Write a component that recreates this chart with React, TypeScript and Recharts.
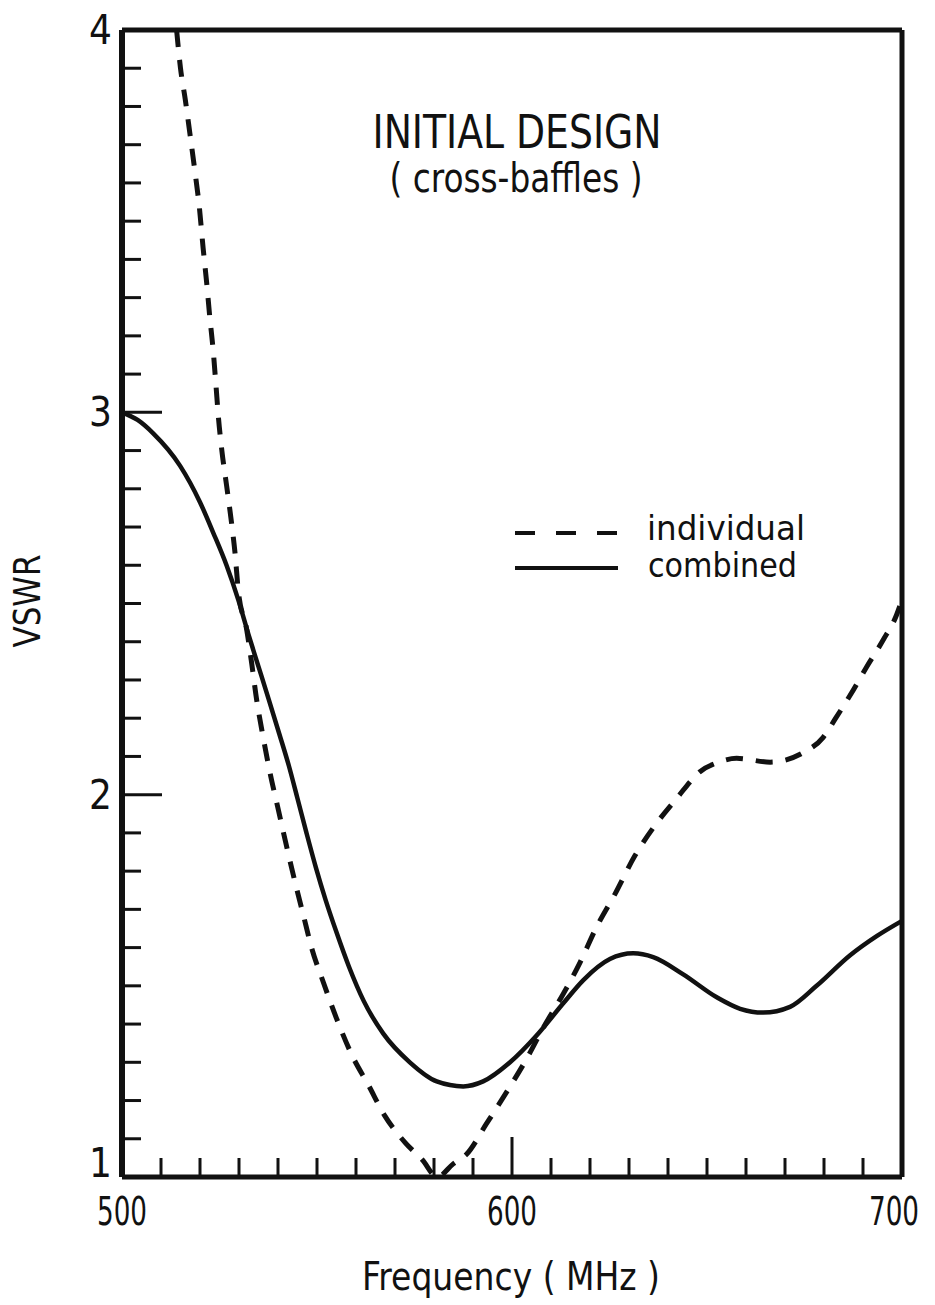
import { LineChart, Line, XAxis, YAxis, Customized } from 'recharts';

// individual (dashed) curve: frequency (MHz) / VSWR
const individualFreq = [
  514, 515, 516.2, 517.4, 518.7, 519.8, 520.8, 521.7, 522.5, 523.4, 524.1, 524.7,
  525.6, 526.8, 528.1, 529, 529.8, 532, 533.3, 534.5, 536.2, 537.9, 540.1, 542.2,
  544.4, 546.5, 548.6, 551.6, 555, 558.9, 563.2, 567.4, 572.6, 577, 580.8, 585,
  588.4, 593.5, 599.1, 603.8, 608, 613.2, 617.4, 621.5, 626.4, 631.5, 636.7, 642.2,
  648.2, 653, 657.6, 666.2, 674.7, 679.8, 683, 686.7, 691, 695.2, 698.6, 700,
];
const individualVswr = [
  4.0, 3.9, 3.82, 3.73, 3.63, 3.54, 3.43, 3.34, 3.25, 3.16, 3.07, 2.99,
  2.9, 2.81, 2.71, 2.63, 2.535, 2.43, 2.34, 2.25, 2.15, 2.06, 1.96, 1.865,
  1.77, 1.685, 1.6, 1.51, 1.415, 1.32, 1.24, 1.16, 1.09, 1.045, 1.0, 1.035,
  1.06, 1.14, 1.23, 1.31, 1.39, 1.48, 1.56, 1.65, 1.74, 1.84, 1.92, 1.99,
  2.06, 2.085, 2.095, 2.085, 2.11, 2.15, 2.2, 2.26, 2.335, 2.405, 2.47, 2.51,
];

// combined (solid) curve
const combinedFreq = [
  500, 504, 508, 514.9, 520, 523.4, 526.8, 529.8, 532.4, 535, 537.6, 540.3, 542.8,
  545, 547.3, 549.7, 552.2, 555, 558.2, 562, 567, 573.8, 580.7, 587.5, 592.6,
  599.5, 606.3, 613.2, 618.3, 625.1, 631.1, 636.2, 643.9, 652.5, 658.5, 664.4,
  671.3, 678.1, 686.7, 693.5, 700,
];
const combinedVswr = [
  3.0, 2.98, 2.945, 2.86, 2.765, 2.685, 2.6, 2.51, 2.42, 2.335, 2.25, 2.16, 2.075,
  1.99, 1.9, 1.81, 1.725, 1.64, 1.55, 1.46, 1.375, 1.3, 1.25, 1.237, 1.25,
  1.3, 1.37, 1.455, 1.515, 1.57, 1.585, 1.575, 1.53, 1.47, 1.44, 1.43,
  1.445, 1.5, 1.58, 1.63, 1.67,
];

const xTicks = [500, 510, 520, 530, 540, 550, 560, 570, 580, 590, 600, 610, 620, 630, 640, 650, 660, 670, 680, 690, 700];
const xLabels = [500, 600, 700];
const xMajor = [600];
const yTicks = Array.from({ length: 31 }, (_, i) => Math.round((1 + i * 0.1) * 10) / 10);
const yLabels = [1, 2, 3, 4];
const yMajor = [2, 3];

const individual = individualFreq.map((f, i) => ({ f, v: individualVswr[i] }));
const combined = combinedFreq.map((f, i) => ({ f, v: combinedVswr[i] }));

const INK = '#111';
const FONT = "'DejaVu Sans Condensed', 'Liberation Sans Narrow', 'Liberation Sans', sans-serif";

const isIn = (list: number[], v: number) => list.some((m) => Math.abs(m - v) < 1e-6);

const BottomTick = (props: any) => {
  const { x, y, payload } = props;
  const v = payload.value;
  const len = isIn(xMajor, v) ? 40 : 19;
  return (
    <g>
      <line x1={x} y1={y} x2={x} y2={y - len} stroke={INK} strokeWidth={3} />
      {isIn(xLabels, v) && (
        <text
          x={v === 700 ? x - 8 : x}
          y={y + 48}
          textAnchor="middle"
          fontSize={39}
          fontFamily={FONT}
          fill={INK}
          textLength={50}
          lengthAdjust="spacingAndGlyphs"
        >
          {v}
        </text>
      )}
    </g>
  );
};

const TopTick = (props: any) => {
  const { x, y, payload } = props;
  const len = isIn(xMajor, payload.value) ? 40 : 19;
  return <line x1={x} y1={y} x2={x} y2={y + len} stroke={INK} strokeWidth={3} />;
};

const LeftTick = (props: any) => {
  const { x, y, payload } = props;
  const v = payload.value;
  const len = isIn(yMajor, v) ? 40 : 19;
  return (
    <g>
      <line x1={x} y1={y} x2={x + len} y2={y} stroke={INK} strokeWidth={3} />
      {isIn(yLabels, v) && (
        <text
          x={x - 10}
          y={v === 1 ? y - 14 : y}
          textAnchor="end"
          dominantBaseline="central"
          fontSize={40}
          fontFamily={FONT}
          fill={INK}
        >
          {v}
        </text>
      )}
    </g>
  );
};

const RightTick = (props: any) => {
  const { x, y, payload } = props;
  const len = isIn(yMajor, payload.value) ? 40 : 18;
  return <line x1={x} y1={y} x2={x - len} y2={y} stroke={INK} strokeWidth={3} />;
};

const Texts = () => (
  <g fontFamily={FONT} fill={INK}>
    <text x={517} y={148} textAnchor="middle" fontSize={46} textLength={289} lengthAdjust="spacingAndGlyphs">
      INITIAL DESIGN
    </text>
    <text x={516} y={192} textAnchor="middle" fontSize={40} textLength={253} lengthAdjust="spacingAndGlyphs">
      ( cross-baffles )
    </text>
    <text x={511} y={1290} textAnchor="middle" fontSize={39} textLength={298} lengthAdjust="spacingAndGlyphs">
      Frequency ( MHz )
    </text>
    <text
      x={27}
      y={601}
      textAnchor="middle"
      dominantBaseline="central"
      fontSize={38}
      textLength={93}
      lengthAdjust="spacingAndGlyphs"
      transform="rotate(-90 27 601)"
    >
      VSWR
    </text>
    {/* legend */}
    <line x1={515} y1={533} x2={618} y2={533} stroke={INK} strokeWidth={4} strokeDasharray="20 21" />
    <text x={647} y={540} fontSize={34} textLength={158} lengthAdjust="spacingAndGlyphs">
      individual
    </text>
    <line x1={515} y1={568} x2={618} y2={568} stroke={INK} strokeWidth={4} />
    <text x={648} y={577} fontSize={34} textLength={149} lengthAdjust="spacingAndGlyphs">
      combined
    </text>
  </g>
);

export default function App() {
  return (
    <div style={{ position: 'absolute', left: 0, top: 0, width: 935, height: 1305, background: '#fff' }}>
      <LineChart width={935} height={1305} margin={{ top: 20, right: 13, bottom: 88, left: 62 }}>
        <XAxis
          xAxisId="bottom"
          dataKey="f"
          type="number"
          domain={[500, 700]}
          ticks={xTicks}
          interval={0}
          height={40}
          tickSize={0}
          tickMargin={0}
          tickLine={false}
          axisLine={{ stroke: INK, strokeWidth: 5 }}
          tick={<BottomTick />}
        />
        <XAxis
          xAxisId="top"
          orientation="top"
          dataKey="f"
          type="number"
          domain={[500, 700]}
          ticks={xTicks}
          interval={0}
          height={10}
          tickSize={0}
          tickMargin={0}
          tickLine={false}
          axisLine={{ stroke: INK, strokeWidth: 5 }}
          tick={<TopTick />}
        />
        <YAxis
          yAxisId="left"
          type="number"
          domain={[1, 4]}
          ticks={yTicks}
          interval={0}
          width={60}
          tickSize={0}
          tickMargin={0}
          tickLine={false}
          axisLine={{ stroke: INK, strokeWidth: 6 }}
          tick={<LeftTick />}
        />
        <YAxis
          yAxisId="right"
          orientation="right"
          type="number"
          domain={[1, 4]}
          ticks={yTicks}
          interval={0}
          width={20}
          tickSize={0}
          tickMargin={0}
          tickLine={false}
          axisLine={{ stroke: INK, strokeWidth: 5 }}
          tick={<RightTick />}
        />
        <Line
          xAxisId="bottom"
          yAxisId="left"
          data={individual}
          dataKey="v"
          name="individual"
          type="monotone"
          stroke={INK}
          strokeWidth={5}
          strokeDasharray="17 13"
          dot={false}
          activeDot={false}
          isAnimationActive={false}
        />
        <Line
          xAxisId="bottom"
          yAxisId="left"
          data={combined}
          dataKey="v"
          name="combined"
          type="monotone"
          stroke={INK}
          strokeWidth={4.5}
          dot={false}
          activeDot={false}
          isAnimationActive={false}
        />
        <Customized component={Texts} />
      </LineChart>
    </div>
  );
}
